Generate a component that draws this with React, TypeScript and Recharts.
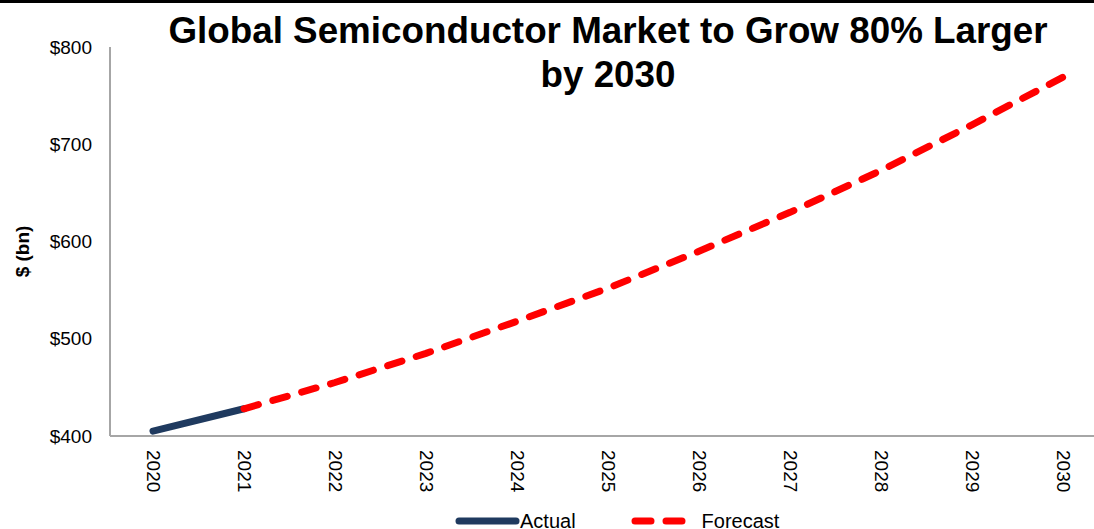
import { Legend, Line, LineChart, XAxis, YAxis } from "recharts";

const years = ["2020", "2021", "2022", "2023", "2024", "2025", "2026", "2027", "2028", "2029", "2030"];
const actual = [405, 428, null, null, null, null, null, null, null, null, null];
const forecast = [null, 428, 455, 485, 518, 552, 590, 630, 673, 720, 769];
const yTicks = [400, 500, 600, 700, 800];

const data = years.map((year, i) => ({ year, actual: actual[i], forecast: forecast[i] }));

const NAVY = "#1F3A5F";
const RED = "#FF0000";
const FONT = "'Liberation Sans', Arial, sans-serif";

const YearTick = ({ x, y, payload }: any) => (
  <text
    transform={`translate(${x},${y + 6}) rotate(90)`}
    textAnchor="start"
    dominantBaseline="central"
    fontSize={19}
    fontFamily={FONT}
    fill="#000"
  >
    {payload.value}
  </text>
);

const LegendContent = () => (
  <div
    style={{
      height: 26,
      display: "flex",
      alignItems: "center",
      paddingLeft: 454,
      fontFamily: FONT,
      fontSize: 20,
      color: "#000",
    }}
  >
    <svg width={66} height={10}>
      <line x1={5} y1={5} x2={62} y2={5} stroke={NAVY} strokeWidth={7} strokeLinecap="round" />
    </svg>
    <span>Actual</span>
    <svg width={66} height={10} style={{ marginLeft: 54 }}>
      <line x1={5} y1={5} x2={62} y2={5} stroke={RED} strokeWidth={7} strokeLinecap="round" strokeDasharray="16 15" />
    </svg>
    <span style={{ marginLeft: 6 }}>Forecast</span>
  </div>
);

export default function App() {
  return (
    <div
      style={{
        position: "absolute",
        left: 0,
        top: 0,
        width: 1094,
        height: 529,
        overflow: "hidden",
        background: "#fff",
      }}
    >
      <div style={{ position: "absolute", left: 0, top: 0, width: 1094, height: 3, background: "#000" }} />
      <div
        style={{
          position: "absolute",
          left: 108,
          top: 9,
          width: 1000,
          textAlign: "center",
          fontFamily: FONT,
          fontWeight: "bold",
          fontSize: 36.8,
          lineHeight: "44px",
          color: "#000",
          zIndex: 2,
        }}
      >
        Global Semiconductor Market to Grow 80% Larger
        <br />
        by 2030
      </div>
      <LineChart
        width={1120}
        height={534}
        data={data}
        margin={{ top: 47, right: 10, left: 0, bottom: 0 }}
      >
        <XAxis
          dataKey="year"
          height={72}
          padding={{ left: 43, right: 47 }}
          axisLine={{ stroke: "#A6A6A6", strokeWidth: 2 }}
          tickLine={false}
          tick={<YearTick />}
          interval={0}
        />
        <YAxis
          width={110}
          domain={[400, 800]}
          ticks={yTicks}
          allowDataOverflow
          tickFormatter={(v) => `$${v}`}
          axisLine={{ stroke: "#A6A6A6", strokeWidth: 2 }}
          tickLine={false}
          tickMargin={12}
          tick={{ fontSize: 19, fill: "#000", fontFamily: FONT }}
          label={{
            content: ({ viewBox }: any) => {
              const cx = 22;
              const cy = viewBox.y + viewBox.height / 2 + 10;
              return (
                <text
                  x={cx}
                  y={cy}
                  transform={`rotate(-90 ${cx} ${cy})`}
                  textAnchor="middle"
                  dominantBaseline="central"
                  fontSize={19}
                  fontWeight="bold"
                  fontFamily={FONT}
                  fill="#000"
                >
                  $ (bn)
                </text>
              );
            },
          }}
        />
        <Legend verticalAlign="bottom" align="left" content={<LegendContent />} />
        <Line
          dataKey="actual"
          stroke={NAVY}
          strokeWidth={7}
          strokeLinecap="round"
          dot={false}
          connectNulls={false}
          isAnimationActive={false}
          legendType="none"
        />
        <Line
          dataKey="forecast"
          stroke={RED}
          strokeWidth={7}
          strokeLinecap="round"
          strokeDasharray="15 15"
          dot={false}
          isAnimationActive={false}
        />
      </LineChart>
    </div>
  );
}
